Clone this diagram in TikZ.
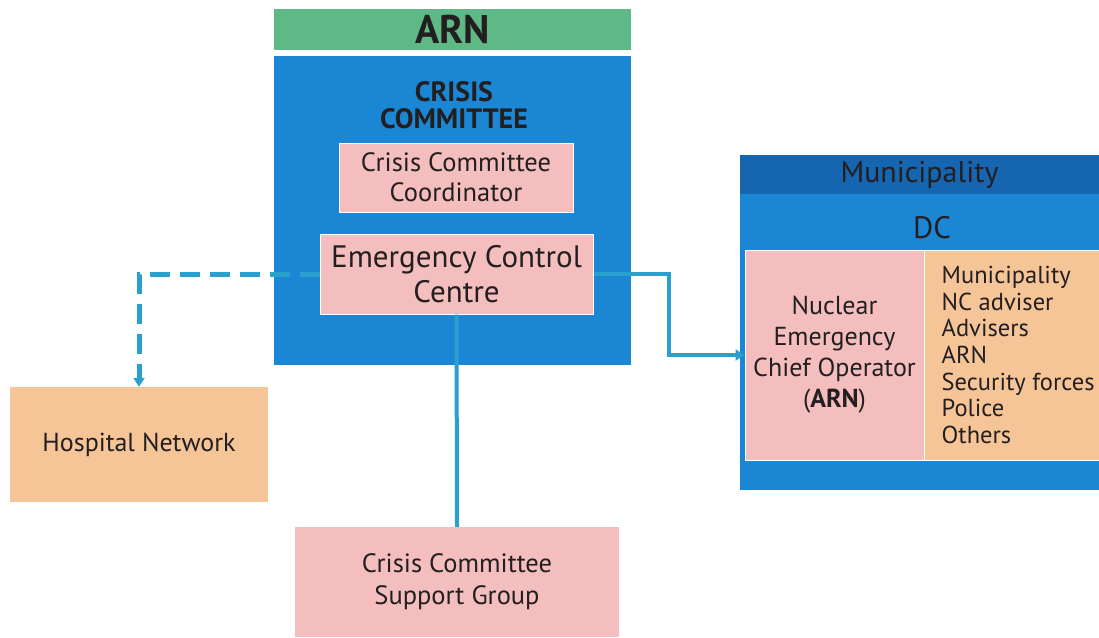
\documentclass[tikz,border=0pt]{standalone}
\usepackage{fontspec}
\setmainfont{PT Sans}
\usetikzlibrary{arrows.meta,positioning}
\definecolor{arngreen}{RGB}{94,185,134}
\definecolor{ccblue}{RGB}{27,135,212}
\definecolor{mundark}{RGB}{22,101,177}
\definecolor{boxpink}{RGB}{243,190,189}
\definecolor{boxpeach}{RGB}{245,197,151}
\definecolor{linkblue}{RGB}{42,160,206}
\definecolor{inkdark}{RGB}{35,31,32}
\newcommand{\fs}[2]{\fontsize{#1}{#2}\selectfont}

\begin{document}
\begin{tikzpicture}[
    x=1pt, y=-1pt,
    box/.style={rectangle, inner sep=0pt, align=center, text=inkdark},
    panel/.style={box, fill=ccblue},
    pinkbox/.style={box, fill=boxpink, draw=white, line width=1pt},
    peachbox/.style={box, fill=boxpeach, draw=white, line width=1pt},
    link/.style={draw=linkblue, line width=4pt},
    dashlink/.style={link, line width=5pt, dash pattern=on 20pt off 10pt},
    arrow/.style={-{Triangle[length=9pt, width=11pt]}}
]
\useasboundingbox (0,0) rectangle (1099,637);

% ARN column
\node[box, fill=arngreen, minimum width=357pt, minimum height=41pt,
      font=\fs{40}{44}\bfseries] (arn) at (452.5,29.5) {ARN};
\node[panel, minimum width=357pt, minimum height=309pt] (crisis) at (452.5,210.5) {};
\node[box, font=\fs{28}{27}\bfseries] (crisistitle) at (454,105) {CRISIS\\COMMITTEE};
\node[pinkbox, minimum width=234pt, minimum height=69pt, font=\fs{26.5}{30}]
     (coord) at (456,177.5) {Crisis Committee\\Coordinator};
\node[pinkbox, minimum width=273pt, minimum height=80pt, font=\fs{31}{35}]
     (ecc) at (456.5,274) {Emergency Control\\Centre};

% Outside the committee
\node[box, fill=boxpeach, minimum width=258pt, minimum height=115pt, font=\fs{26}{30}]
     (hospital) at (139,444.5) {Hospital Network};
\node[box, fill=boxpink, minimum width=324pt, minimum height=110pt, font=\fs{26.5}{32}]
     (support) at (457,582) {Crisis Committee\\Support Group};

% Municipality
\node[box, fill=mundark, minimum width=359pt, minimum height=39pt, font=\fs{30}{32}]
     (muni) at (919.5,174.5) {Municipality};
\node[panel, minimum width=359pt, minimum height=296pt] (dc) at (919.5,342) {};
\node[box, font=\fs{31}{32}] (dctitle) at (932,228) {DC};
\node[pinkbox, minimum width=179pt, minimum height=210pt, font=\fs{26}{31}]
     (nceo) at (834.5,355) {Nuclear\\Emergency\\Chief Operator\\(\textbf{ARN})};
\node[peachbox, minimum width=175pt, minimum height=210pt] (members) at (1011.5,355) {};
\node[box, align=left, anchor=west, font=\fs{24.5}{26.7}]
     (memberlist) at ([xshift=18pt]members.west)
     {Municipality\\NC adviser\\Advisers\\ARN\\Security forces\\Police\\Others};

% Connectors
\draw[dashlink, arrow] (ecc.west) -| (hospital.north);
\draw[link] (ecc.south) -- (support.north);
\draw[link, arrow] (ecc.east) -- ++(75,0) |- (nceo.west);

\end{tikzpicture}
\end{document}
